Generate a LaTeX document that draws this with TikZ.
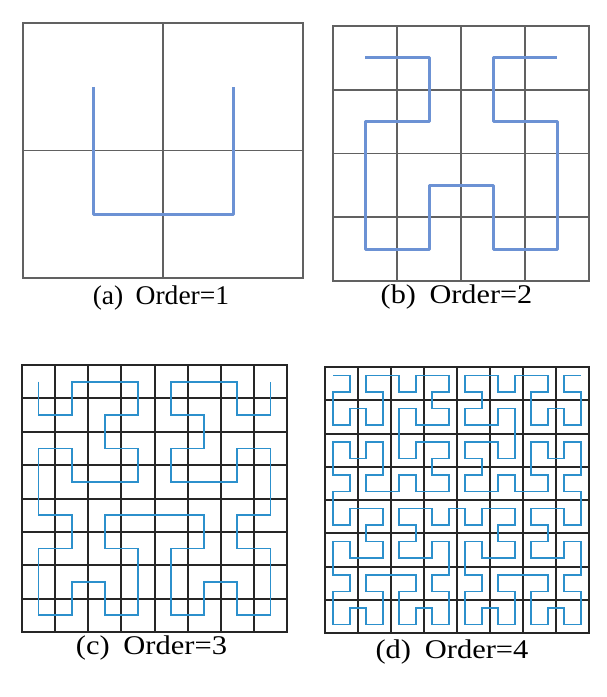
\documentclass[tikz,border=0pt]{standalone}
\usepackage{fontspec}
\setmainfont{Liberation Serif}
\usetikzlibrary{lindenmayersystems}

\definecolor{lightcurve}{RGB}{108,146,212}
\definecolor{darkcurve}{RGB}{44,144,204}

\pgfdeclarelindenmayersystem{hilbert}{
  \rule{A -> +BF-AFA-FB+}
  \rule{B -> -AF+BFB+FA-}
}

\tikzset{
  thingrid/.style={draw=black!62, line width=1.6pt},
  thickgrid/.style={draw=black!85, line width=2pt},
  caption/.style={font=\fontsize{27}{32}\selectfont, inner sep=0pt, transform shape}
}

\begin{document}
\begin{tikzpicture}[x=1pt,y=-1pt]
	\useasboundingbox (0,0) rectangle (607,697);

	% (a) order 1
	\draw[thingrid] (23,23) rectangle (303,278);
	\draw[thingrid] (163,23) -- (163,278) (23,150.5) -- (303,150.5);
	\begin{scope}[shift={(93,86.75)}, xscale=140, yscale=-127.5]
		\draw[lightcurve, line width=3pt, line join=round, l-system={hilbert, axiom=A, order=1, step=1pt, angle=90}] (0,0) lindenmayer system;
	\end{scope}
	\node[caption, xscale=1.02] (capa) at (161,298) {(a)\hspace{0.45em}Order=1};

	% (b) order 2
	\draw[thingrid] (333,26) rectangle (589,281);
	\foreach \i in {1,2,3} {
		\draw[thingrid] (333+\i*64,26) -- ++(0,255);
		\draw[thingrid] (333,26+\i*63.75) -- ++(256,0);
	}
	\begin{scope}[shift={(365,57.9)}, xscale=64, yscale=-63.75]
		\draw[lightcurve, line width=3pt, line join=round, l-system={hilbert, axiom=A, order=2, step=1pt, angle=90}] (0,0) lindenmayer system;
	\end{scope}
	\node[caption, xscale=1.12] (capb) at (456.5,297) {(b)\hspace{0.45em}Order=2};

	% (c) order 3
	\draw[thickgrid] (22,365) rectangle (287,632);
	\foreach \i in {1,...,7} {
		\draw[thickgrid] (22+\i*33.125,365) -- ++(0,267);
		\draw[thickgrid] (22,365+\i*33.375) -- ++(265,0);
	}
	\begin{scope}[shift={(38.56,381.69)}, xscale=33.125, yscale=-33.375]
		\draw[darkcurve, line width=1.7pt, l-system={hilbert, axiom=A, order=3, step=1pt, angle=90}] (0,0) lindenmayer system;
	\end{scope}
	\node[caption, xscale=1.13] (capc) at (151.5,648) {(c)\hspace{0.45em}Order=3};

	% (d) order 4
	\draw[thickgrid] (325,367) rectangle (589,633);
	\foreach \i in {1,...,7} {
		\draw[thickgrid] (325+\i*33,367) -- ++(0,266);
		\draw[thickgrid] (325,367+\i*33.25) -- ++(264,0);
	}
	\begin{scope}[shift={(333.25,375.31)}, xscale=16.5, yscale=-16.625]
		\draw[darkcurve, line width=1.6pt, l-system={hilbert, axiom=A, order=4, step=1pt, angle=90}] (0,0) lindenmayer system;
	\end{scope}
	\node[caption, xscale=1.13] (capd) at (452,652) {(d)\hspace{0.45em}Order=4};
\end{tikzpicture}
\end{document}
